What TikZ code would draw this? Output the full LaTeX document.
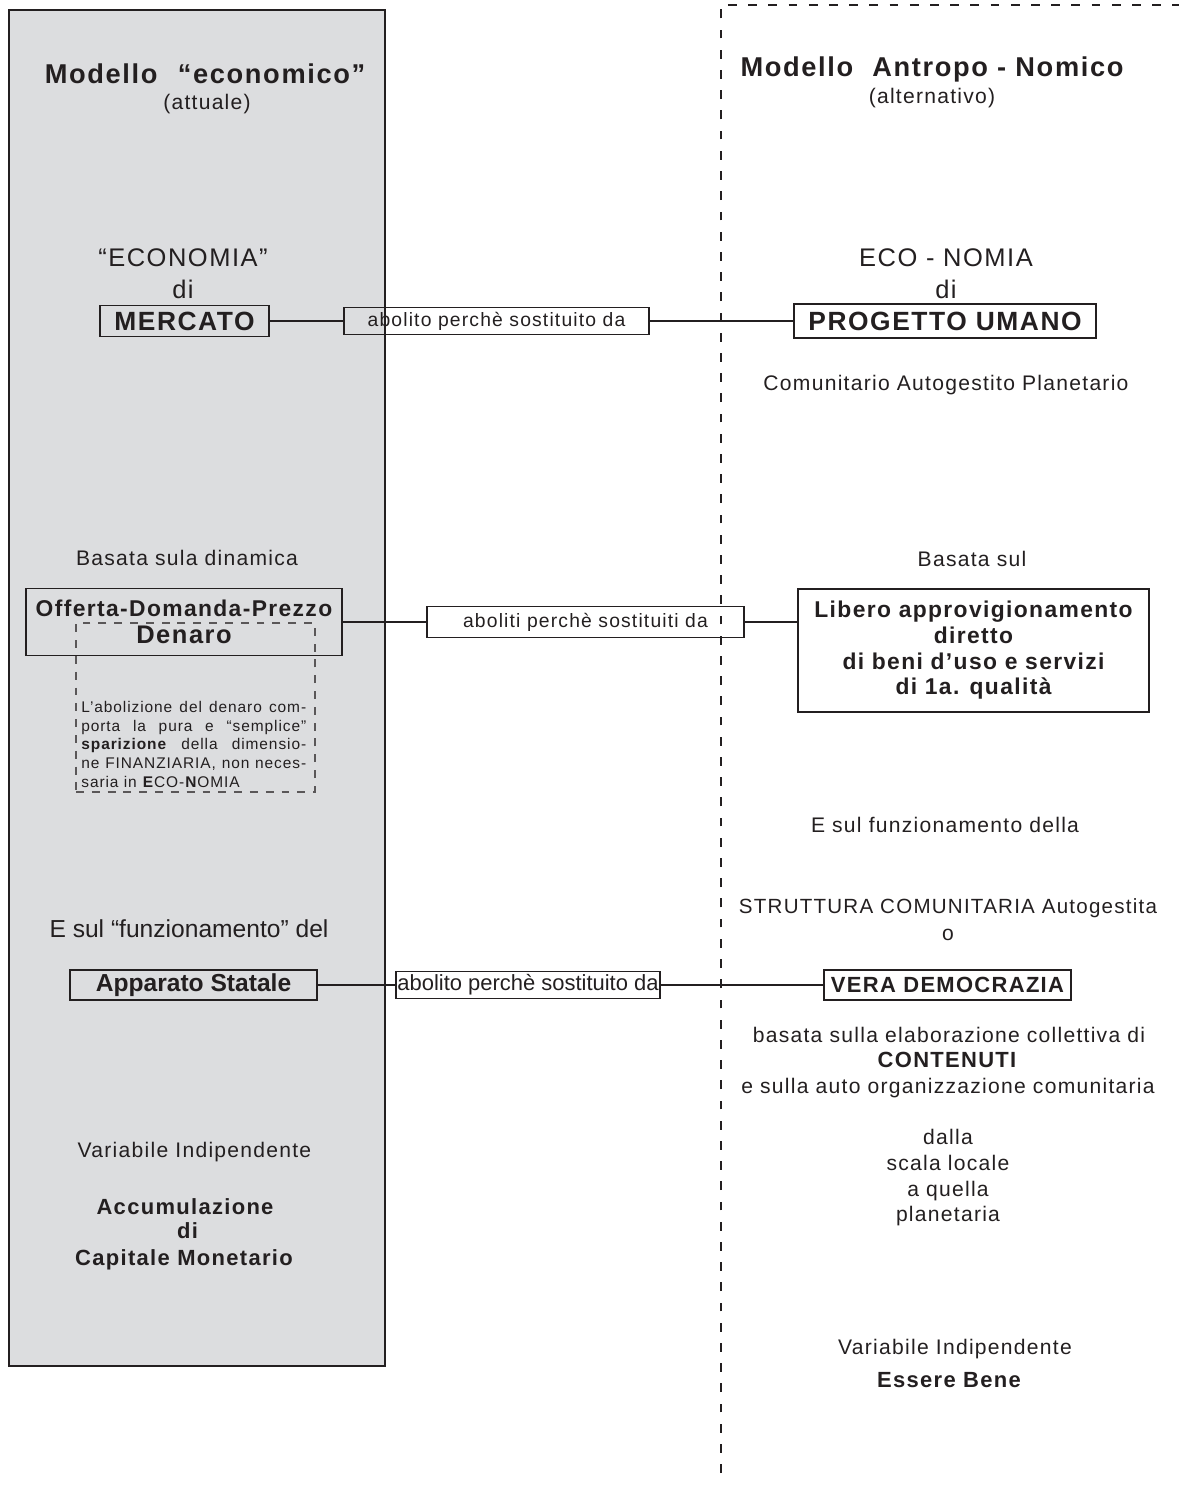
\documentclass[tikz,border=0pt]{standalone}
\usepackage{fontspec}
\setmainfont{Liberation Sans}[LetterSpace=6]
\newfontfamily\tightsans{Liberation Sans}
\definecolor{ink}{HTML}{231F20}
\definecolor{panel}{HTML}{DCDDDF}
\newcommand{\px}{0.02cm}

\begin{document}
\begin{tikzpicture}[
          x=0.02cm, y=-0.02cm,
          txt/.style={anchor=base, inner sep=0pt, text=ink, font=\fontsize{12}{14}\selectfont},
          txtbf/.style={txt, font=\bfseries\fontsize{12.5}{15}\selectfont},
          big/.style={txt, font=\fontsize{14.5}{17}\selectfont},
          heading/.style={txt, font=\bfseries\fontsize{15.5}{18}\selectfont},
          boxsize/.style 2 args={minimum width=#1*\px, minimum height=#2*\px},
          framed/.style={draw=ink, line width=0.6pt, inner sep=0pt, text=ink},
          linkbox/.style={framed, font=\fontsize{11}{13}\selectfont},
          link/.style={draw=ink, line width=0.6pt},
          ]

          \useasboundingbox (0,0) rectangle (1179,1485);

          % the two models
          \draw[draw=ink, line width=1.3pt, fill=panel] (9,10) rectangle (385,1366);
          \draw[ink, line width=0.6pt, dash pattern=on 5pt off 6.5pt] (721,1473) -- (721,5) -- (1179,5);

          \node[heading] (titleL) at (205,83) {Modello\hspace{0.75em}“economico”};
          \node[txt] (subL) at (207,109) {(attuale)};
          \node[heading] (titleR) at (932,76) {Modello\hspace{0.7em}Antropo - Nomico};
          \node[txt] (subR) at (932,103) {(alternativo)};

          % mercato / progetto umano
          \node[big] (ecoL) at (183,266) {“ECONOMIA”};
          \node[big] (diL) at (183,298) {di};
          \node[framed, boxsize={169}{31}, font=\bfseries\fontsize{15}{18}\selectfont] (mercato) at (184.5,321) {MERCATO};
          \node[big] (ecoR) at (946,266) {ECO - NOMIA};
          \node[big] (diR) at (946,298) {di};
          \node[framed, boxsize={302}{34}, font=\bfseries\fontsize{15}{18}\selectfont] (progetto) at (945,321) {PROGETTO UMANO};
          \node[txt] (comunit) at (946,390) {Comunitario Autogestito Planetario};

          \node[linkbox, boxsize={305}{27}] (abolito1) at (496.5,321) {abolito perchè sostituito da};
          \draw[link] (mercato.east) -- (abolito1.west);
          \draw[link] (abolito1.east) -- (progetto.west);

          % denaro / approvigionamento
          \node[txt] (basataL) at (187,565) {Basata sula dinamica};
          \node[draw=ink!75, line width=0.6pt, dash pattern=on 4.5pt off 4.5pt, boxsize={239}{169}] (denaroNote) at (195.5,707.5) {};
          \node[framed, boxsize={316}{67}, align=center, font=\bfseries\fontsize{13}{15.3}\selectfont] (offerta) at (184,622) {Offerta-Domanda-Prezzo\\{\fontsize{14.5}{15.3}\selectfont Denaro}};
          \node[anchor=north west, inner sep=0pt, align=left, text=ink, font=\fontsize{8.8}{10.6}\selectfont] (abolizione) at (81,701)
            {\makebox[128pt][s]{L’abolizione del denaro com-}\\
             \makebox[128pt][s]{porta la pura e “semplice”}\\
             \makebox[128pt][s]{\textbf{sparizione} della dimensio-}\\
             \makebox[128pt][s]{ne FINANZIARIA, non neces-}\\
             saria in \textbf{E}CO-\textbf{N}OMIA};

          \node[txt] (basataR) at (972,566) {Basata sul};
          \node[framed, boxsize={351}{123}, align=center, font=\bfseries\fontsize{13}{14.6}\selectfont] (libero) at (973.5,650.5)
            {Libero approvigionamento\\diretto\\di beni d’uso e servizi\\di 1a. qualità};

          \node[linkbox, boxsize={317}{31}] (aboliti) at (585.5,622) {aboliti perchè sostituiti da};
          \draw[link] (offerta.east) -- (aboliti.west);
          \draw[link] (aboliti.east) -- (aboliti.east -| libero.west);

          % apparato statale / vera democrazia
          \node[txt] (funzR) at (945,832) {E sul funzionamento della};
          \node[txt, font=\fontsize{11.7}{14}\selectfont] (strutt) at (948,913) {STRUTTURA COMUNITARIA Autogestita};
          \node[txt] (oppure) at (948,940) {o};

          \node[txt, font=\tightsans\fontsize{14}{16}\selectfont] (funzL) at (189,937) {E sul “funzionamento” del};
          \node[framed, boxsize={247}{30}, font=\tightsans\bfseries\fontsize{14}{16}\selectfont] (apparato) at (193.5,985) {Apparato Statale};
          \node[framed, boxsize={264}{27}, font=\tightsans\fontsize{12.5}{14}\selectfont] (abolito2) at (528,985) {abolito perchè sostituito da};
          \node[framed, boxsize={247}{30}, font=\bfseries\fontsize{12.5}{15}\selectfont] (vera) at (947.5,985) {VERA DEMOCRAZIA};
          \draw[link] (apparato.east) -- (abolito2.west);
          \draw[link] (abolito2.east) -- (vera.west);

          \node[txt] (basataV) at (949,1042) {basata sulla elaborazione collettiva di};
          \node[txtbf] (contenuti) at (947,1067) {CONTENUTI};
          \node[txt] (autoorg) at (948,1093) {e sulla auto organizzazione comunitaria};
          \node[txt] (dalla) at (948,1144) {dalla};
          \node[txt] (scala) at (948,1170) {scala locale};
          \node[txt] (quella) at (948,1196) {a quella};
          \node[txt] (planet) at (948,1221) {planetaria};

          % variabile indipendente
          \node[txt] (varL) at (194.5,1157) {Variabile Indipendente};
          \node[txtbf] (accum) at (185,1214) {Accumulazione};
          \node[txtbf] (diAcc) at (187.5,1238) {di};
          \node[txtbf] (capitale) at (184,1265) {Capitale Monetario};

          \node[txt] (varR) at (955,1354) {Variabile Indipendente};
          \node[txtbf] (essere) at (949,1387) {Essere Bene};

        \end{tikzpicture}
\end{document}
